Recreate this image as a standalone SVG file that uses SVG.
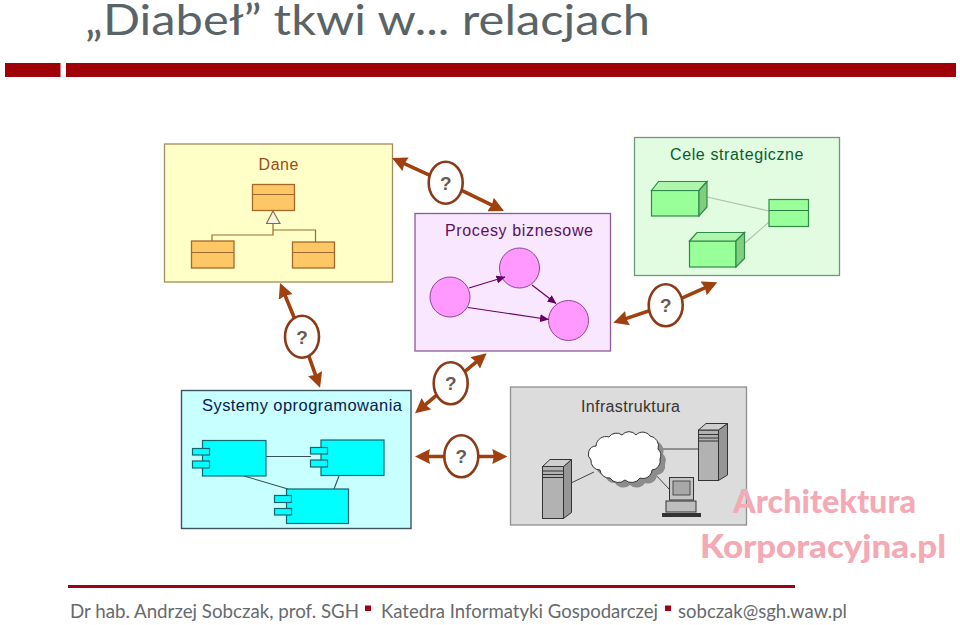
<svg xmlns="http://www.w3.org/2000/svg" width="960" height="625" viewBox="0 0 960 625">
  <style>
    .sans { font-family: "Liberation Sans", Arial, sans-serif; }
    .geo { font-family: Lato, "Noto Sans", sans-serif; }
    .label { font-size: 16px; }
    .foot { font-size: 18.500px; fill: #666a6c; }
    .mark { font-size: 33px; font-weight: 900; fill: #f4a9b5; }
    .link { fill: none; stroke: #a0400f; stroke-width: 3.6; marker-start: url(#head); marker-end: url(#head); }
    .bubble { fill: #fff; stroke: #8b3a17; stroke-width: 2.6; }
    .q { font-size: 19px; font-weight: 700; fill: #6a5a50; text-anchor: middle; }
    .cls { fill: #fec765; stroke: #a5682a; stroke-width: 1.3; }
    .thin-o { fill: none; stroke: #9c6a30; stroke-width: 1.2; }
    .proc { fill: #ff99ff; stroke: #8a4a96; stroke-width: 1; }
    .flow { stroke: #660066; stroke-width: 1.2; fill: none; marker-end: url(#flowhead); }
    .g1 { fill: #99ff99; stroke: #2f8a4a; stroke-width: 1.2; }
    .g2 { fill: #aef5ae; stroke: #2f8a4a; stroke-width: 1.2; }
    .g3 { fill: #7fcf7f; stroke: #2f8a4a; stroke-width: 1.2; }
    .comp { fill: #00ffff; stroke: #15656f; stroke-width: 1.2; }
    .wire { stroke: #35505a; stroke-width: 1.1; fill: none; }
    .srvf { fill: #b2b2b2; stroke: #333; stroke-width: 1; }
    .srvs { fill: #969696; stroke: #333; stroke-width: 1; }
    .srvt { fill: #cfcfcf; stroke: #333; stroke-width: 1; }
    .net { stroke: #444; stroke-width: 1; fill: none; }
  </style>
  <defs>
    <marker id="head" markerUnits="userSpaceOnUse" markerWidth="15" markerHeight="15" viewBox="0 0 15 15" refX="5" refY="7.500" orient="auto-start-reverse">
      <path d="M0 0L15 7.500L0 15L1.500 7.500Z" fill="#a0400f"/>
    </marker>
    <marker id="flowhead" markerUnits="userSpaceOnUse" markerWidth="9" markerHeight="8" viewBox="0 0 9 8" refX="8.500" refY="4" orient="auto">
      <path d="M0 0L9 4L0 8Z" fill="#660066"/>
    </marker>
    <path id="cloud" d="M596 446A10 10 0 0 1 609 437A9 9 0 0 1 622 435A9 9 0 0 1 636 435A9 9 0 0 1 650 436A10 10 0 0 1 658 449A9 9 0 0 1 660 459A9 9 0 0 1 652 470A9 9 0 0 1 640 478A10 10 0 0 1 625 480A10 10 0 0 1 610 478A9 9 0 0 1 600 470A9 9 0 0 1 591 460A8 8 0 0 1 596 446Z"/>
  </defs>
  <rect width="960" height="625" fill="#fff"/>

  <!-- heading and rule -->
  <text class="geo" x="85" y="35" font-size="42" fill="#5a6466" textLength="565" lengthAdjust="spacingAndGlyphs">„Diabeł” tkwi w... relacjach</text>
  <rect x="5" y="63" width="55.500" height="14" fill="#a00008"/>
  <rect x="66" y="63" width="890" height="14" fill="#a00008"/>

  <g id="dane">
    <rect x="164.500" y="144" width="228" height="138" fill="#ffffc8" stroke="#a58a5a" stroke-width="1.3"/>
    <text class="sans label" x="258.500" y="170" fill="#a04a12" textLength="40">Dane</text>
    <rect class="cls" x="252.500" y="184.500" width="42" height="26"/>
    <path class="thin-o" d="M252.500 194.500H294.500"/>
    <rect class="cls" x="191.500" y="241" width="42.500" height="27"/>
    <path class="thin-o" d="M191.500 252.500H234"/>
    <rect class="cls" x="292.500" y="242" width="42" height="26"/>
    <path class="thin-o" d="M292.500 252.500H334.500"/>
    <path class="thin-o" d="M273 224V235H212V241M273 230H315.500V242"/>
    <path d="M273 211L280 223.500H266.500Z" fill="#f5f2e6" stroke="#8a6a3a" stroke-width="1.1"/>
  </g>

  <g id="procesy">
    <rect x="415" y="213.500" width="195.500" height="137.500" fill="#f9e6ff" stroke="#8a5a9a" stroke-width="1.3"/>
    <text class="sans label" x="445" y="236" fill="#5a1060" textLength="148">Procesy biznesowe</text>
    <circle class="proc" cx="450" cy="297" r="20"/>
    <circle class="proc" cx="519.500" cy="268" r="20"/>
    <circle class="proc" cx="568.500" cy="320.500" r="20"/>
    <path class="flow" d="M469 288L505 277"/>
    <path class="flow" d="M468 307.500L548.500 319.500"/>
    <path class="flow" d="M532 285L556 303.500"/>
  </g>

  <g id="cele">
    <rect x="634.500" y="137.500" width="205" height="138" fill="#e2fce2" stroke="#6f9a7a" stroke-width="1.3"/>
    <text class="sans label" x="670" y="160" fill="#0a5a30" textLength="133.500">Cele strategiczne</text>
    <path d="M707 197L769 211M745 243L769 222" stroke="#a8c4a8" stroke-width="1.1" fill="none"/>
    <rect class="g1" x="651.500" y="190.500" width="47.500" height="25.500"/>
    <path class="g2" d="M651.500 190.500L658.500 181.500H707L699 190.500Z"/>
    <path class="g3" d="M699 190.500L707 181.500V207L699 216Z"/>
    <rect class="g1" x="689.500" y="241" width="46.500" height="26"/>
    <path class="g2" d="M689.500 241L697 232.500H744.500L736 241Z"/>
    <path class="g3" d="M736 241L744.500 232.500V258.500L736 267Z"/>
    <rect class="g1" x="769" y="199.500" width="39.500" height="27"/>
    <path d="M769 210.500H808.500" stroke="#2f7a44" stroke-width="1.2"/>
  </g>

  <g id="systemy">
    <rect x="181.500" y="390.500" width="229.500" height="138" fill="#c8ffff" stroke="#3a5560" stroke-width="1.4"/>
    <text class="sans" x="202" y="411" font-size="16.500" fill="#0a1a50" textLength="200">Systemy oprogramowania</text>
    <path class="wire" d="M266 456.500H311M244 476L288 489M339 476L334 489"/>
    <rect class="comp" x="202.500" y="440.500" width="63.500" height="35.500"/>
    <rect class="comp" x="192.500" y="448.500" width="17" height="6.500"/>
    <rect class="comp" x="192.500" y="461" width="17" height="7"/>
    <rect class="comp" x="321" y="440" width="63" height="35.500"/>
    <rect class="comp" x="310.500" y="447.500" width="17" height="6.500"/>
    <rect class="comp" x="310.500" y="460" width="17" height="7"/>
    <rect class="comp" x="286.500" y="489" width="62" height="34.500"/>
    <rect class="comp" x="274.500" y="495.500" width="17" height="7"/>
    <rect class="comp" x="274.500" y="508.500" width="17" height="6.500"/>
  </g>

  <g id="infrastruktura">
    <rect x="510.500" y="387" width="236" height="138" fill="#dcdcdc" stroke="#909090" stroke-width="1.3"/>
    <text class="sans label" x="581" y="412" fill="#333" textLength="99">Infrastruktura</text>
    <path class="net" d="M571 483L594 472M660 449H698M653 472L669 489"/>
    <use href="#cloud" transform="translate(5 5)" fill="#8c8c8c"/>
    <use href="#cloud" fill="#fff" stroke="#333" stroke-width="1"/>
    <rect class="srvf" x="542.500" y="466.500" width="21" height="52"/>
    <path class="srvs" d="M563.500 466.500L571.500 459.500V512.500L563.500 518.500Z"/>
    <path class="srvt" d="M542.500 466.500L550 459.500H571.500L563.500 466.500Z"/>
    <path d="M543 471H563M543 474.500H563M543 477.500H563" stroke="#333" stroke-width="1.100"/>
    <rect class="srvf" x="698.500" y="430" width="20" height="50.500"/>
    <path class="srvs" d="M718.500 430L727.500 423.500V475L718.500 480.500Z"/>
    <path class="srvt" d="M698.500 430L706 423.500H727.500L718.500 430Z"/>
    <path d="M699 434.500H718M699 438H718M699 441H718" stroke="#333" stroke-width="1.100"/>
    <rect x="669.500" y="477.500" width="24" height="22.500" fill="#c4c4c4" stroke="#333"/>
    <rect x="673" y="481" width="17" height="14" fill="#a8a8a8" stroke="#333" stroke-width=".8"/>
    <rect x="666" y="501" width="30" height="11" fill="#bdbdbd" stroke="#333"/>
    <rect x="662" y="513" width="39" height="4" fill="#333"/>
  </g>

  <!-- double-headed links between the areas -->
  <g id="connectors">
    <polyline class="link" points="401.100,162.200 445.700,182.700 495,206.600"/>
    <polyline class="link" points="283.800,292.300 302,336.700 316.700,378.300"/>
    <polyline class="link" points="622.800,319.600 665.700,305.300 708.200,286.400"/>
    <polyline class="link" points="479,359.700 450.700,383.300 422.700,406.900"/>
    <polyline class="link" points="425,456.500 461.300,456.500 497.300,456.500"/>
  </g>

  <g id="q-dane-procesy">
    <ellipse class="bubble" cx="445.700" cy="182.700" rx="17" ry="21"/>
    <text class="sans q" x="445.700" y="189.500">?</text>
  </g>
  <g id="q-dane-systemy">
    <ellipse class="bubble" cx="302" cy="336.700" rx="17" ry="21"/>
    <text class="sans q" x="302" y="343.500">?</text>
  </g>
  <g id="q-procesy-cele">
    <ellipse class="bubble" cx="665.700" cy="305.300" rx="17" ry="21"/>
    <text class="sans q" x="665.700" y="312">?</text>
  </g>
  <g id="q-procesy-systemy">
    <ellipse class="bubble" cx="450.700" cy="383.300" rx="17" ry="21"/>
    <text class="sans q" x="450.700" y="390">?</text>
  </g>
  <g id="q-systemy-infrastruktura">
    <ellipse class="bubble" cx="461.300" cy="456.300" rx="17" ry="21"/>
    <text class="sans q" x="461.300" y="463">?</text>
  </g>

  <!-- brand lettering -->
  <text class="geo mark" x="733" y="513" textLength="183" lengthAdjust="spacingAndGlyphs">Architektura</text>
  <text class="geo mark" x="700" y="558" textLength="246" lengthAdjust="spacingAndGlyphs">Korporacyjna.pl</text>

  <!-- footer -->
  <rect x="68" y="585" width="727" height="3" fill="#a00010"/>
  <text class="geo foot" x="70" y="618" textLength="289" lengthAdjust="spacingAndGlyphs">Dr hab. Andrzej Sobczak, prof. SGH</text>
  <rect x="365" y="605.500" width="6" height="5.500" fill="#a00010"/>
  <text class="geo foot" x="381" y="618" textLength="277" lengthAdjust="spacingAndGlyphs">Katedra Informatyki Gospodarczej</text>
  <rect x="665" y="605.500" width="6" height="5.500" fill="#a00010"/>
  <text class="geo foot" x="678" y="618" textLength="169" lengthAdjust="spacingAndGlyphs">sobczak@sgh.waw.pl</text>
</svg>
